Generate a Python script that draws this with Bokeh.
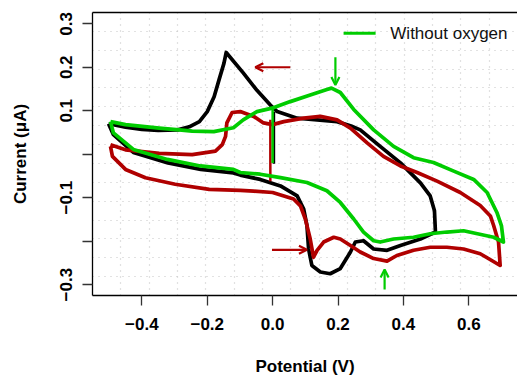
import numpy as np
from bokeh.plotting import figure
from bokeh.models import FixedTicker, LinearAxis, Arrow, OpenHead, Range1d
from bokeh.core.properties import value
from bokeh.embed import file_html
from bokeh.resources import INLINE

# ---------------- data (potential V, current uA) ----------------
black_v = [-0.502, -0.45, -0.40, -0.35, -0.29, -0.255, -0.224, -0.200, -0.179, -0.164, -0.149, -0.142,
           -0.090, -0.048, -0.007, 0.014, 0.075, 0.136, 0.197, 0.240, 0.268, 0.329, 0.391, 0.452, 0.482,
           0.495, 0.498, 0.452, 0.391, 0.350, 0.309, 0.278, 0.253, 0.238, 0.207, 0.176, 0.146, 0.120,
           0.110, 0.105, 0.095, 0.075, 0.024, -0.038, -0.099, -0.120, -0.220, -0.320, -0.426, -0.487, -0.502]
black_i = [0.070, 0.062, 0.057, 0.055, 0.056, 0.063, 0.075, 0.098, 0.132, 0.171, 0.209, 0.234,
           0.187, 0.147, 0.113, 0.098, 0.083, 0.079, 0.075, 0.065, 0.056, 0.018, -0.020, -0.066, -0.096,
           -0.130, -0.179, -0.195, -0.210, -0.221, -0.218, -0.199, -0.202, -0.225, -0.263, -0.275, -0.271, -0.256,
           -0.218, -0.164, -0.126, -0.096, -0.073, -0.058, -0.048, -0.043, -0.035, -0.020, 0.004, 0.045, 0.070]
black_start_v = [0.004, 0.004]
black_start_i = [0.097, -0.022]

red_v = [-0.496, -0.45, -0.347, -0.246, -0.175, -0.154, -0.144, -0.140, -0.124, -0.099, -0.058, -0.028,
         0.000, 0.034, 0.095, 0.146, 0.197, 0.238, 0.289, 0.339, 0.391, 0.442, 0.503, 0.574, 0.635, 0.666,
         0.676, 0.691, 0.696, 0.635, 0.584, 0.533, 0.482, 0.431, 0.380, 0.350, 0.309, 0.268, 0.238, 0.207,
         0.187, 0.156, 0.136, 0.125, 0.115, 0.100, 0.085, 0.064, 0.000, -0.058, -0.099, -0.194, -0.298,
         -0.389, -0.450, -0.490, -0.496]
red_i = [0.022, 0.010, 0.002, -0.001, 0.007, 0.022, 0.041, 0.072, 0.096, 0.098, 0.087, 0.072,
         0.068, 0.075, 0.083, 0.087, 0.079, 0.060, 0.026, -0.005, -0.027, -0.042, -0.062, -0.088, -0.118, -0.142,
         -0.164, -0.202, -0.256, -0.229, -0.218, -0.214, -0.214, -0.221, -0.233, -0.246, -0.240, -0.225, -0.210, -0.195,
         -0.191, -0.202, -0.221, -0.237, -0.195, -0.149, -0.119, -0.103, -0.088, -0.085, -0.083, -0.081, -0.069,
         -0.054, -0.035, -0.005, 0.018]
red_start_v = [-0.007, -0.007]
red_start_i = [0.079, -0.062]

green_v = [-0.496, -0.45, -0.347, -0.286, -0.246, -0.18, -0.12, -0.090, -0.048, -0.002, 0.054, 0.115,
           0.166, 0.180, 0.207, 0.248, 0.309, 0.370, 0.431, 0.492, 0.554, 0.615, 0.656, 0.686, 0.700, 0.706,
           0.676, 0.584, 0.533, 0.482, 0.431, 0.370, 0.329, 0.309, 0.278, 0.248, 0.207, 0.166, 0.105, 0.024,
           -0.038, -0.099, -0.120, -0.221, -0.322, -0.426, -0.487, -0.496]
green_i = [0.075, 0.068, 0.060, 0.056, 0.053, 0.052, 0.061, 0.079, 0.098, 0.106, 0.121, 0.136,
           0.149, 0.152, 0.142, 0.103, 0.056, 0.018, -0.008, -0.019, -0.039, -0.058, -0.088, -0.134, -0.165, -0.202,
           -0.191, -0.176, -0.179, -0.183, -0.191, -0.195, -0.202, -0.199, -0.179, -0.149, -0.111, -0.084, -0.065, -0.054,
           -0.046, -0.042, -0.035, -0.027, -0.012, 0.011, 0.049, 0.075]
green_start_v = [0.0, 0.0]
green_start_i = [-0.020, 0.107]

x_ticks = [-0.4, -0.2, 0.0, 0.2, 0.4, 0.6]
x_labels = ["\u22120.4", "\u22120.2", "0.0", "0.2", "0.4", "0.6"]
y_ticks = [-0.3, -0.2, -0.1, 0.0, 0.1, 0.2, 0.3]
y_labels = ["\u22120.3", "", "\u22120.1", "", "0.1", "0.2", "0.3"]

legend_label = "Without oxygen"

# ---------------- style ----------------
BLACK = "#000000"
RED = "#b00000"
GREEN = "#00cc00"
FONT = "Liberation Sans"

X0, X1 = -0.551, 0.749
Y0, Y1 = -0.325, 0.326

p = figure(width=517, height=378, output_backend="svg", toolbar_location=None,
           x_range=Range1d(X0, X1), y_range=Range1d(Y0, Y1),
           min_border_left=92, min_border_right=0, min_border_top=12, min_border_bottom=81,
           x_axis_label="Potential (V)", y_axis_label="Current (\u03bcA)")
p.outline_line_color = None
p.background_fill_color = "white"
p.border_fill_color = "white"

for ax in (p.xaxis[0], p.yaxis[0]):
    ax.axis_line_color = "black"
    ax.axis_line_width = 1.3
    ax.major_tick_line_color = "#333333"
    ax.major_tick_line_width = 1.3
    ax.major_tick_out = 10
    ax.major_tick_in = 0
    ax.minor_tick_line_color = None
    ax.major_label_text_font = FONT
    ax.major_label_text_font_style = "bold"
    ax.major_label_text_font_size = "17px"
    ax.major_label_text_color = "black"
    ax.axis_label_text_font = FONT
    ax.axis_label_text_font_style = "bold"
    ax.axis_label_text_font_size = "17px"
    ax.axis_label_text_color = "black"

p.xaxis[0].ticker = FixedTicker(ticks=x_ticks)
p.xaxis[0].major_label_overrides = {t: l for t, l in zip(x_ticks, x_labels)}
p.xaxis[0].major_label_standoff = 12
p.xaxis[0].axis_label_standoff = 24

p.yaxis[0].ticker = FixedTicker(ticks=y_ticks)
p.yaxis[0].major_label_overrides = {t: l for t, l in zip(y_ticks, y_labels)}
p.yaxis[0].major_label_orientation = "vertical"
p.yaxis[0].major_label_standoff = 10
p.yaxis[0].axis_label_standoff = 28

top = LinearAxis(ticker=FixedTicker(ticks=[]), axis_line_color="black", axis_line_width=1.3,
                 major_label_text_font_size="0px", major_tick_line_color=None, minor_tick_line_color=None)
p.add_layout(top, "above")

# grid: 15 equal divisions of the plotting region
p.xgrid.ticker = FixedTicker(ticks=list(np.linspace(X0, X1, 16)[1:-1]))
p.ygrid.ticker = FixedTicker(ticks=list(np.linspace(Y0, Y1, 16)[1:-1]))
for g in (p.xgrid[0], p.ygrid[0]):
    g.grid_line_color = "#c4c4c4"
    g.grid_line_dash = "1 5"
    g.grid_line_width = 1.2

LW = 3.7
p.line(black_v, black_i, line_color=BLACK, line_width=LW, line_join="round")
p.line(black_start_v, black_start_i, line_color=BLACK, line_width=2.5)
p.line(red_v, red_i, line_color=RED, line_width=LW, line_join="round")
p.line(red_start_v, red_start_i, line_color=RED, line_width=2.5)
p.line(green_v, green_i, line_color=GREEN, line_width=LW, line_join="round")
p.line(green_start_v, green_start_i, line_color=GREEN, line_width=2.5)

# arrows
arrows = [
    (0.054, 0.200, -0.053, 0.200, RED),
    (0.192, 0.223, 0.192, 0.159, GREEN),
    (-0.002, -0.220, 0.105, -0.220, RED),
    (0.3425, -0.311, 0.3425, -0.265, GREEN),
]
for xs, ys, xe, ye, c in arrows:
    p.add_layout(Arrow(x_start=xs, y_start=ys, x_end=xe, y_end=ye, line_color=c, line_width=2.2,
                       end=OpenHead(size=8, line_color=c, line_width=2.2)))

# legend
p.line([0.217, 0.315], [0.278, 0.278], line_color=GREEN, line_width=3)
p.text([0.36], [0.278], text=[legend_label], text_font=value(FONT), text_font_size="17px",
       text_baseline="middle", text_align="left", text_color="#111111")

open("out.html", "w").write(file_html(p, INLINE))
